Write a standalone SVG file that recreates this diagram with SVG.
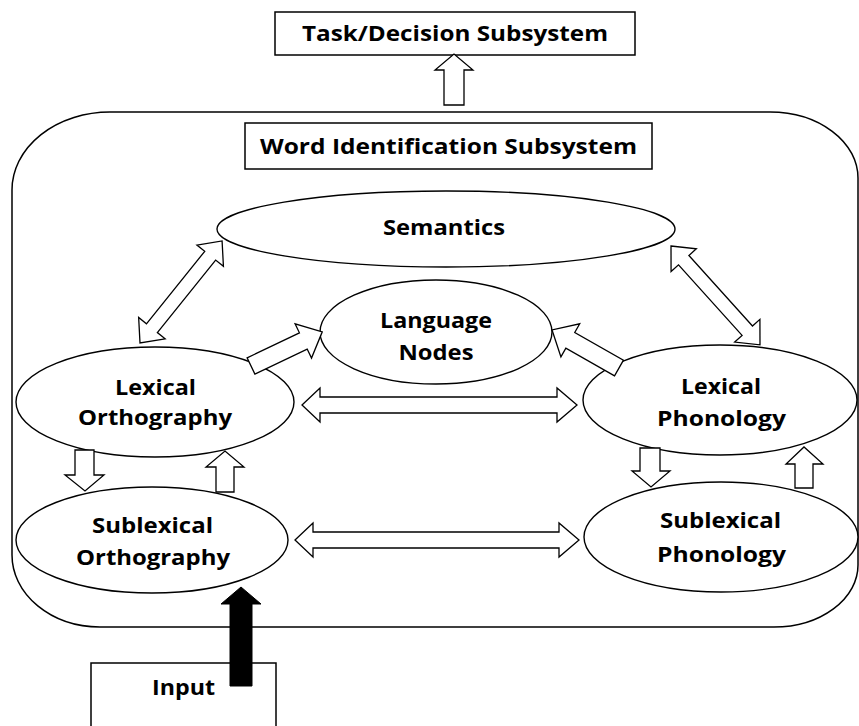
<svg xmlns="http://www.w3.org/2000/svg" width="859" height="726" viewBox="0 0 859 726">
<style>
.box{fill:#fff;stroke:#000;stroke-width:1.5}
.ell{fill:#fff;stroke:#000;stroke-width:1.4}
.frame{fill:none;stroke:#000;stroke-width:1.5}
.arr{fill:#fff;stroke:#000;stroke-width:1.3;stroke-linejoin:miter}
.blk{fill:#000;stroke:#000;stroke-width:1}
.t{font-family:"Open Sans","Liberation Sans",sans-serif;font-weight:700;font-size:21px;text-anchor:middle;fill:#000}
</style>
<rect width="859" height="726" fill="#fff"/>
<g id="word-identification-frame">
<path class="frame" d="M 110,112 L 770,112 A 88,66 0 0 1 858,178 L 858,565 A 84,62 0 0 1 774,627 L 100,627 A 88,72 0 0 1 12,555 L 12,190 A 98,78 0 0 1 110,112 Z"/>
</g>
<g id="task-decision">
<rect class="box" x="275" y="12" width="360" height="43"/>
<text class="t" x="455" y="41" textLength="306" lengthAdjust="spacingAndGlyphs">Task/Decision Subsystem</text>
</g>
<g id="word-identification-label">
<rect class="box" x="245" y="123" width="407" height="46"/>
<text class="t" x="448.5" y="153.5" textLength="377" lengthAdjust="spacingAndGlyphs">Word Identification Subsystem</text>
</g>
<g id="semantics">
<ellipse class="ell" cx="446" cy="229" rx="229" ry="38"/>
<text class="t" x="444" y="235" textLength="122" lengthAdjust="spacingAndGlyphs">Semantics</text>
</g>
<g id="language-nodes">
<ellipse class="ell" cx="436" cy="332" rx="116" ry="52"/>
<text class="t" x="436" y="328" textLength="112" lengthAdjust="spacingAndGlyphs">Language</text>
<text class="t" x="436" y="360" textLength="75" lengthAdjust="spacingAndGlyphs">Nodes</text>
</g>
<g id="lexical-orthography">
<ellipse class="ell" cx="155" cy="402" rx="139" ry="55"/>
<text class="t" x="155.5" y="395" textLength="81" lengthAdjust="spacingAndGlyphs">Lexical</text>
<text class="t" x="155" y="425" textLength="154" lengthAdjust="spacingAndGlyphs">Orthography</text>
</g>
<g id="sublexical-orthography">
<ellipse class="ell" cx="152" cy="540" rx="136" ry="53"/>
<text class="t" x="152.5" y="533" textLength="121" lengthAdjust="spacingAndGlyphs">Sublexical</text>
<text class="t" x="153" y="565" textLength="154" lengthAdjust="spacingAndGlyphs">Orthography</text>
</g>
<g id="lexical-phonology">
<ellipse class="ell" cx="720" cy="400" rx="137" ry="55"/>
<text class="t" x="721" y="394" textLength="80" lengthAdjust="spacingAndGlyphs">Lexical</text>
<text class="t" x="721.5" y="426" textLength="129" lengthAdjust="spacingAndGlyphs">Phonology</text>
</g>
<g id="sublexical-phonology">
<ellipse class="ell" cx="721" cy="537" rx="137" ry="55"/>
<text class="t" x="720.5" y="528" textLength="121" lengthAdjust="spacingAndGlyphs">Sublexical</text>
<text class="t" x="721.5" y="562" textLength="129" lengthAdjust="spacingAndGlyphs">Phonology</text>
</g>
<g id="input">
<rect class="box" x="91" y="663" width="185" height="80"/>
<text class="t" x="183.5" y="695" textLength="63" lengthAdjust="spacingAndGlyphs">Input</text>
</g>
<g id="connectors">
<polygon class="arr" points="444,105 444,70 435,70 454,54 473,70 464,70 464,105"/>
<polygon class="arr" transform="translate(140,343) rotate(-51.2)" points="0,0 19,-17 19,-7 112,-7 112,-17 131,0 112,17 112,7 19,7 19,17"/>
<polygon class="arr" transform="translate(671,246) rotate(48)" points="0,0 19,-17 19,-7 114,-7 114,-17 133,0 114,17 114,7 19,7 19,17"/>
<polygon class="arr" transform="translate(251,366) rotate(-25.6)" points="0,-9 58,-9 58,-19 79,0 58,19 58,9 0,9"/>
<polygon class="arr" transform="translate(619,368) rotate(-150.4)" points="0,-9 56,-9 56,-19 77,0 56,19 56,9 0,9"/>
<polygon class="arr" points="302,405 320,388 320,397 557,397 557,388 577,405 557,422 557,413 320,413 320,422"/>
<polygon class="arr" points="295,540 313,523 313,532 559,532 559,523 579,540 559,557 559,548 313,548 313,557"/>
<polygon class="arr" points="75,450 94,450 94,475 104,475 85,491 65,475 75,475"/>
<polygon class="arr" points="216,492 216,467 206,467 225,451 244,467 234,467 234,492"/>
<polygon class="arr" points="640,448 660,448 660,471 670,471 651,487 632,471 640,471"/>
<polygon class="arr" points="795,488 795,464 786,464 804,447 823,464 813,464 813,488"/>
<polygon class="blk" points="230,686 230,604 221,604 241,587 261,604 252,604 252,686"/>
</g>
</svg>
